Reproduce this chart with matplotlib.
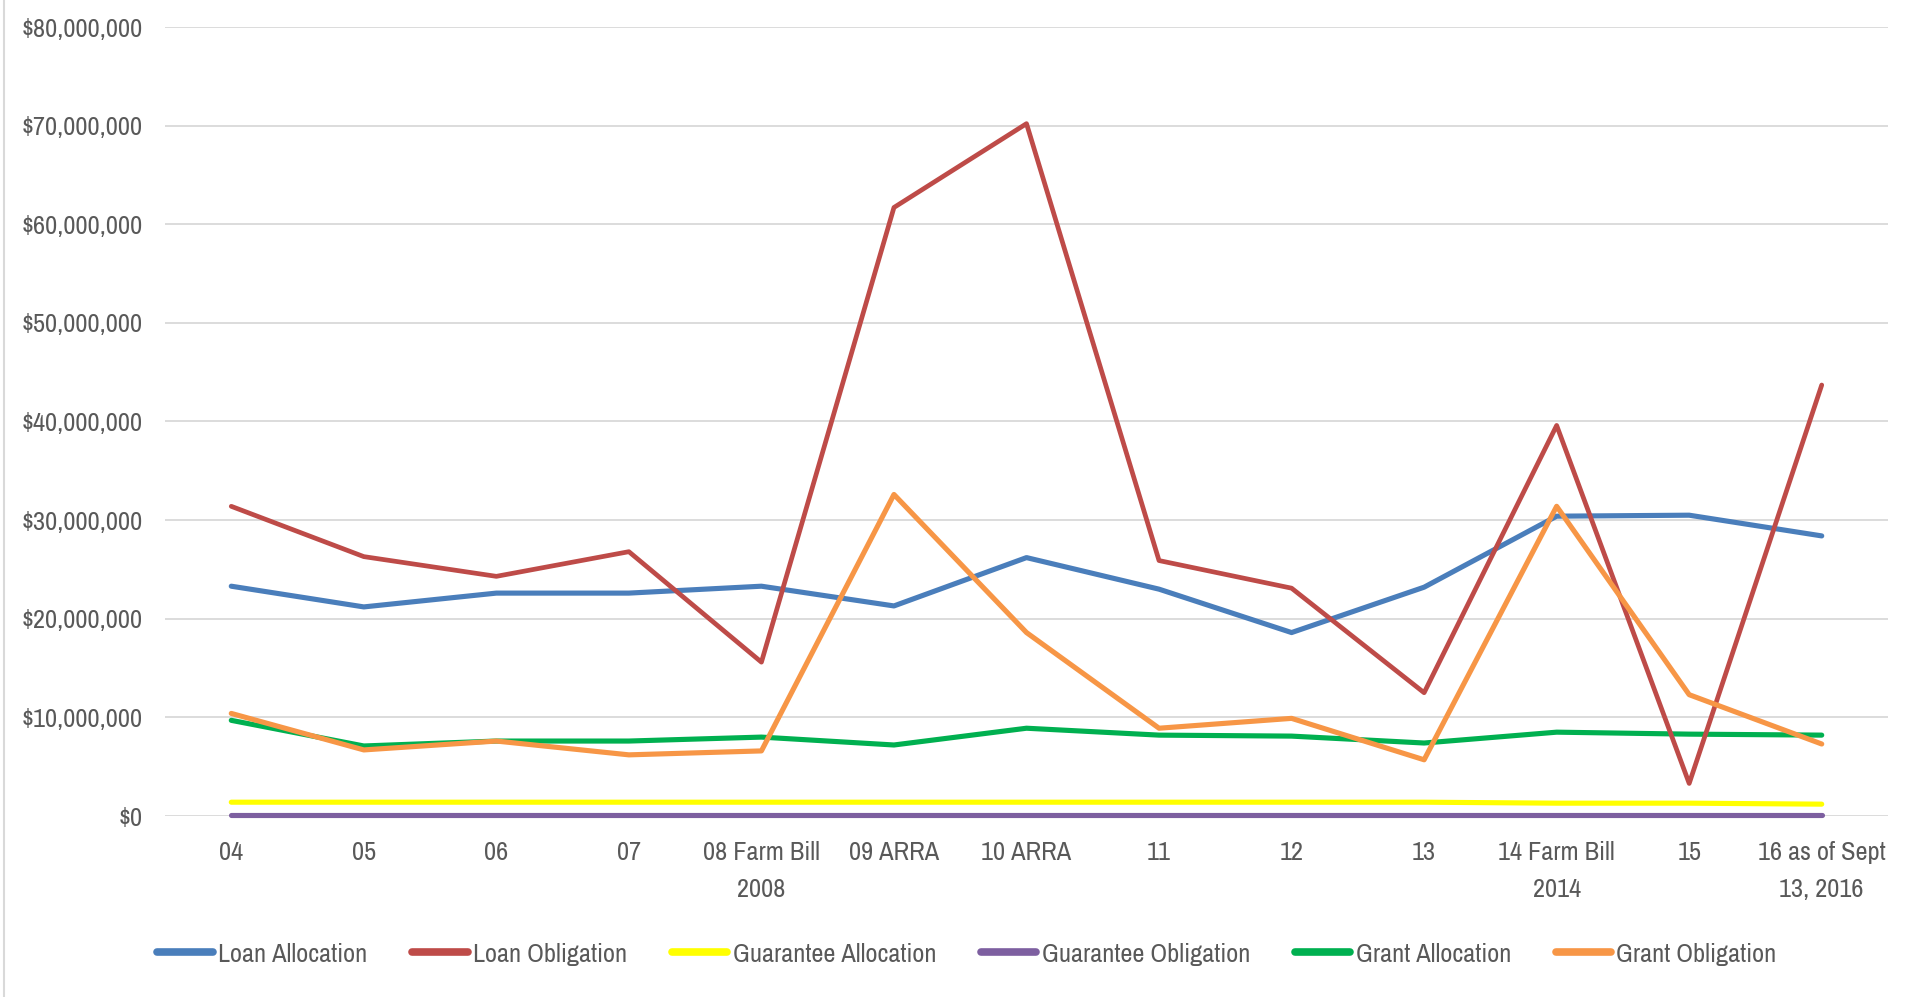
import matplotlib
matplotlib.use("Agg")
import matplotlib.pyplot as plt
from matplotlib.lines import Line2D
from matplotlib.ticker import FuncFormatter, MultipleLocator
from matplotlib import font_manager

categories = ["04", "05", "06", "07", "08 Farm Bill\n2008", "09 ARRA", "10 ARRA",
              "11", "12", "13", "14 Farm Bill\n2014", "15", "16 as of Sept\n13, 2016"]

loan_allocation = [23.3, 21.2, 22.6, 22.6, 23.3, 21.3, 26.2, 23.0, 18.6, 23.2, 30.4, 30.5, 28.4]
loan_obligation = [31.4, 26.3, 24.3, 26.8, 15.6, 61.7, 70.2, 25.9, 23.1, 12.5, 39.6, 3.3, 43.7]
guarantee_allocation = [1.4, 1.4, 1.4, 1.4, 1.4, 1.4, 1.4, 1.4, 1.4, 1.4, 1.3, 1.3, 1.2]
guarantee_obligation = [0.1, 0.1, 0.1, 0.1, 0.1, 0.1, 0.1, 0.1, 0.1, 0.1, 0.1, 0.1, 0.1]
grant_allocation = [9.7, 7.1, 7.6, 7.6, 8.0, 7.2, 8.9, 8.2, 8.1, 7.4, 8.5, 8.3, 8.2]
grant_obligation = [10.4, 6.7, 7.6, 6.2, 6.6, 32.6, 18.6, 8.9, 9.9, 5.7, 31.4, 12.3, 7.3]

series_names = ["Loan Allocation", "Loan Obligation", "Guarantee Allocation",
                "Guarantee Obligation", "Grant Allocation", "Grant Obligation"]

# pick a narrow font if one is installed
names = {f.name for f in font_manager.fontManager.ttflist}
narrow = [n for n in names if 'Narrow' in n or 'Condensed' in n]
if 'Liberation Sans Narrow' in names:
    fam = ['Liberation Sans Narrow', 'DejaVu Sans']
    fsize = 19
elif narrow:
    fam = [sorted(narrow)[0], 'DejaVu Sans']
    fsize = 19
else:
    fam = ['Roboto', 'DejaVu Sans']
    fsize = 15
plt.rcParams['font.family'] = fam

fig = plt.figure(figsize=(19.15, 9.97), dpi=100)
ax = fig.add_axes([165 / 1915, 181 / 997, 1723 / 1915, 789 / 997])

x = list(range(len(categories)))
data = [loan_allocation, loan_obligation, guarantee_allocation,
        guarantee_obligation, grant_allocation, grant_obligation]
colors = ["#4A7EBB", "#BE4B48", "#FFFF00", "#7D5FA0", "#00B050", "#F79646"]
widths = [3.7, 3.4, 3.7, 3.7, 3.7, 3.7]
zorders = [3, 4, 3, 3, 3, 4]

for vals, name, c, w, z in zip(data, series_names, colors, widths, zorders):
    ax.plot(x, [v * 1e6 for v in vals], color=c, lw=w, label=name, clip_on=False,
            solid_joinstyle='round', solid_capstyle='round', zorder=z)

ax.set_xlim(-0.5, len(categories) - 0.5)
ax.set_ylim(0, 80e6)
ax.yaxis.set_major_locator(MultipleLocator(10e6))
ax.yaxis.set_major_formatter(FuncFormatter(lambda v, p: "${:,.0f}".format(v)))
ax.grid(axis='y', color='#D9D9D9', lw=1.3, zorder=0)
ax.set_axisbelow(True)
for s in ax.spines.values():
    s.set_visible(False)

ax.set_xticks(x)
ax.set_xticklabels(categories, linespacing=1.75)
ax.tick_params(axis='both', length=0, labelsize=fsize, colors='#595959')
ax.tick_params(axis='y', pad=16)
ax.tick_params(axis='x', pad=18)

leg = fig.legend(loc='center', bbox_to_anchor=(0.505, 0.043), ncol=6, frameon=False,
                 fontsize=fsize, handlelength=2.1, handletextpad=0.2, columnspacing=1.7)
for t in leg.get_texts():
    t.set_color('#595959')
for h in leg.get_lines():
    h.set_linewidth(5.5)

fig.add_artist(Line2D([4 / 1915, 4 / 1915], [0, 1], color='#D9D9D9', lw=1.5,
                      transform=fig.transFigure))

fig.savefig("out.png", dpi=100, facecolor='white')
